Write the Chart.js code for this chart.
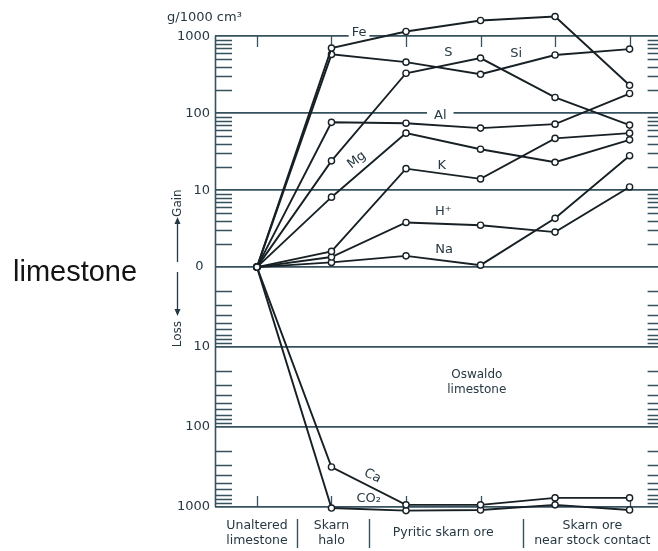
<!DOCTYPE html>
<html>
<head>
<meta charset="utf-8">
<title>Gains and losses of components, Oswaldo limestone</title>
<script src="https://cdn.jsdelivr.net/npm/chart.js@4/dist/chart.umd.min.js"></script>
<style>
  html, body { margin: 0; padding: 0; background: #fff; overflow: hidden; width: 658px; height: 551px; }
  #wrap { position: relative; width: 670px; height: 551px; }
  #c { position: absolute; left: 0; top: 0; }
  #side { position: absolute; left: 13px; top: 255px; font: 29px "Liberation Sans", Arial, sans-serif; color: #141414; white-space: nowrap; }
</style>
</head>
<body>
<div id="wrap">
  <canvas id="c" width="670" height="551"></canvas>
  <div id="side">limestone</div>
</div>
<script>
// Sample columns along the alteration profile (one x slot per analysed sample)
const columns = ['Unaltered limestone', 'Skarn halo', 'Pyritic skarn ore', 'Pyritic skarn ore',
                 'Skarn ore near stock contact', 'Skarn ore near stock contact'];

// Zone captions under the axis and the slot each one is centred on
const groupLabels = [['Unaltered', 'limestone'], ['Skarn', 'halo'], ['Pyritic skarn ore'], ['Skarn ore', 'near stock contact']];
const groupCenters = [0, 1, 2.5, 4.5];
const groupDividers = [0.54, 1.5, 3.57];

// Vertical axis ticks (decades of gain above zero, decades of loss below)
const yTickLabels = ['1000', '100', '10', '0\u2002', '10', '100', '1000'];
const yTickDecades = [-3, -2, -1, 0, 1, 2, 3];

// Gains (+) and losses (-) in g/1000 cm³ relative to unaltered limestone
const fe  = [0, 700, 1150, 1600, 1800, 230];
const si  = [0, 580, 460, 320, 570, 680];
const s   = [0, 24, 330, 520, 160, 70];
const al  = [0, 76, 74, 64, 72, 180];
const mg  = [0, 8.1, 55, 34, 23, 45];
const k   = [0, 1.6, 19, 14, 47, 55];
const h   = [0, 1.35, 3.8, 3.5, 2.85, 11];
const na  = [0, 1.15, 1.4, 1.06, 4.3, 28];
const ca  = [0, -316, -940, -940, -770, -770];
const co2 = [0, -1030, -1110, -1090, -940, -1090];

const seriesNames = ['Fe', 'Si', 'S', 'Al', 'Mg', 'K', 'H⁺', 'Na', 'Ca', 'CO₂'];
const seriesValues = [fe, si, s, al, mg, k, h, na, ca, co2];

const FONT = "'DejaVu Sans', 'Liberation Sans', sans-serif";
const INK = '#172025';
const GRID = '#36525e';
const TEXT = '#263842';

// Loss decades are drawn slightly taller than gain decades
const LOSS_SCALE = 80 / 77;
// headroom above the 1000 line for samples gaining more than 1000
const HEADROOM = 0.4;

// Signed logarithmic mapping: |v| <= 1 sits on the zero line
function toAxis(v) {
  if (Math.abs(v) <= 1) return 0;
  const d = Math.log10(Math.abs(v));
  return v > 0 ? d : -d * LOSS_SCALE;
}
function decadeToAxis(dec) { return dec >= 0 ? dec : dec * LOSS_SCALE; }

// Text placed inside the plot, anchored in data space
const plotLabels = [
  { text: 'Fe', x: 1.37, v: 1125, bg: 3 },
  { text: 'S',  x: 2.57, v: 620 },
  { text: 'Si', x: 3.48, v: 601 },
  { text: 'Al', x: 2.46, v: 94, bg: 7 },
  { text: 'Mg', x: 1.34, v: 24.5, rot: -38 },
  { text: 'K',  x: 2.48, v: 21 },
  { text: 'H⁺', x: 2.50, v: 5.2 },
  { text: 'Na', x: 2.51, v: 1.71 },
  { text: 'Ca', x: 1.55, v: -410, rot: 27 },
  { text: 'CO₂', x: 1.50, v: -794 }
];

const decor = {
  id: 'decor',
  beforeDatasetsDraw(chart) {
    const { ctx, chartArea: a, scales: { x, y } } = chart;
    const top = Math.round(y.getPixelForValue(decadeToAxis(3)));
    const bottom = Math.round(y.getPixelForValue(decadeToAxis(-3)));
    ctx.save();
    ctx.strokeStyle = GRID;

    // frame sides
    ctx.lineWidth = 1.6;
    ctx.beginPath();
    ctx.moveTo(a.left + 0.5, top); ctx.lineTo(a.left + 0.5, bottom);
    ctx.moveTo(a.right - 0.5, top); ctx.lineTo(a.right - 0.5, bottom);
    ctx.stroke();

    ctx.lineWidth = 1.3;
    ctx.beginPath();
    // minor log ticks on the left and right frame, both sides of zero
    for (const sign of [1, -1]) {
      for (let d = 0; d < 3; d++) {
        for (let m = 2; m < 10; m++) {
          const py = Math.round(y.getPixelForValue(toAxis(sign * m * Math.pow(10, d)))) + 0.5;
          ctx.moveTo(a.left, py); ctx.lineTo(a.left + 17, py);
          ctx.moveTo(a.right - 17, py); ctx.lineTo(a.right, py);
        }
      }
    }
    // short marks at each sample column on top and bottom frame
    columns.forEach((_, i) => {
      const px = Math.round(x.getPixelForValue(i)) + 0.5;
      ctx.moveTo(px, top); ctx.lineTo(px, top + 11);
      ctx.moveTo(px, bottom); ctx.lineTo(px, bottom - 11);
    });
    ctx.stroke();

    // separators between zone captions
    ctx.lineWidth = 1.4;
    ctx.beginPath();
    for (const g of groupDividers) {
      const px = Math.round(x.getPixelForValue(g)) + 0.5;
      ctx.moveTo(px, bottom + 12); ctx.lineTo(px, bottom + 41);
    }
    ctx.stroke();

    // unit caption
    ctx.fillStyle = TEXT;
    ctx.font = '13px ' + FONT;
    ctx.textAlign = 'left';
    ctx.textBaseline = 'middle';
    ctx.fillText('g/1000 cm³', a.left - 48, 18);

    // Gain / Loss arrows beside the axis
    const ax = a.left - 37.5;
    const zero = y.getPixelForValue(0);
    ctx.strokeStyle = TEXT;
    ctx.lineWidth = 1.3;
    ctx.beginPath();
    ctx.moveTo(ax, zero - 5); ctx.lineTo(ax, zero - 46);
    ctx.moveTo(ax, zero + 5); ctx.lineTo(ax, zero + 45);
    ctx.stroke();
    ctx.beginPath();
    ctx.moveTo(ax, zero - 50); ctx.lineTo(ax - 3, zero - 43); ctx.lineTo(ax + 3, zero - 43); ctx.closePath();
    ctx.moveTo(ax, zero + 49); ctx.lineTo(ax - 3, zero + 42); ctx.lineTo(ax + 3, zero + 42); ctx.closePath();
    ctx.fill();
    ctx.font = '12px ' + FONT;
    ctx.textAlign = 'center';
    for (const [t, off] of [['Gain', -64], ['Loss', 67]]) {
      ctx.save();
      ctx.translate(ax, zero + off);
      ctx.rotate(-Math.PI / 2);
      ctx.fillText(t, 0, 0);
      ctx.restore();
    }
    ctx.restore();
  },
  afterDatasetsDraw(chart) {
    const { ctx, scales: { x, y } } = chart;
    ctx.save();
    ctx.textAlign = 'center';
    ctx.textBaseline = 'middle';
    ctx.font = '13px ' + FONT;
    for (const l of plotLabels) {
      const px = x.getPixelForValue(l.x);
      const py = y.getPixelForValue(toAxis(l.v));
      ctx.save();
      ctx.translate(px, py);
      ctx.rotate((l.rot || 0) * Math.PI / 180);
      if (l.bg) {
        const w = ctx.measureText(l.text).width + 2 * l.bg;
        ctx.fillStyle = '#fff';
        ctx.fillRect(-w / 2, -6, w, 12);
      }
      ctx.fillStyle = TEXT;
      ctx.fillText(l.text, 0, 0);
      ctx.restore();
    }
    // formation name in the loss field
    ctx.font = '12px ' + FONT;
    ctx.fillStyle = TEXT;
    const ox = x.getPixelForValue(2.95);
    const oy = y.getPixelForValue(toAxis(-28));
    ctx.fillText('Oswaldo', ox, oy - 7.5);
    ctx.fillText('limestone', ox, oy + 7.5);
    ctx.restore();
  }
};

new Chart(document.getElementById('c'), {
  type: 'line',
  data: {
    datasets: seriesValues.map((vals, si) => ({
      label: seriesNames[si],
      data: vals.map((v, i) => ({ x: i, y: toAxis(v) })),
      borderColor: INK,
      borderWidth: 1.9,
      pointRadius: 3.1,
      pointBorderWidth: 1.4,
      pointBackgroundColor: '#fff',
      pointBorderColor: INK,
      tension: 0,
      fill: false,
      clip: false
    }))
  },
  options: {
    responsive: false,
    animation: false,
    devicePixelRatio: 1,
    layout: { padding: { top: 36 - HEADROOM * 77, right: 4, bottom: 0, left: 0 } },
    plugins: { legend: { display: false }, tooltip: { enabled: false } },
    scales: {
      x: {
        type: 'linear',
        position: 'bottom',
        min: -0.563,
        max: 5.47,
        grid: { display: false, drawTicks: false },
        border: { display: false },
        afterBuildTicks: sc => { sc.ticks = groupCenters.map(v => ({ value: v })); },
        afterFit: sc => { sc.height = 44; },
        ticks: {
          autoSkip: false, maxRotation: 0, minRotation: 0,
          padding: 18.5, crossAlign: 'center',
          color: TEXT,
          font: { family: FONT, size: 12.5, lineHeight: 1.2 },
          callback: (v, i) => groupLabels[i]
        }
      },
      y: {
        type: 'linear',
        position: 'left',
        min: decadeToAxis(-3),
        max: 3 + HEADROOM,
        grid: { color: GRID, lineWidth: 1.7, drawTicks: false },
        border: { display: false },
        afterBuildTicks: sc => { sc.ticks = yTickDecades.map(d => ({ value: decadeToAxis(d) })); },
        afterFit: sc => { sc.width = 215; sc.paddingTop = 0; sc.paddingBottom = 0; },
        ticks: {
          padding: 5,
          color: TEXT,
          font: { family: FONT, size: 13 },
          callback: (v, i) => yTickLabels[i]
        }
      }
    }
  },
  plugins: [decor]
});
</script>
</body>
</html>
